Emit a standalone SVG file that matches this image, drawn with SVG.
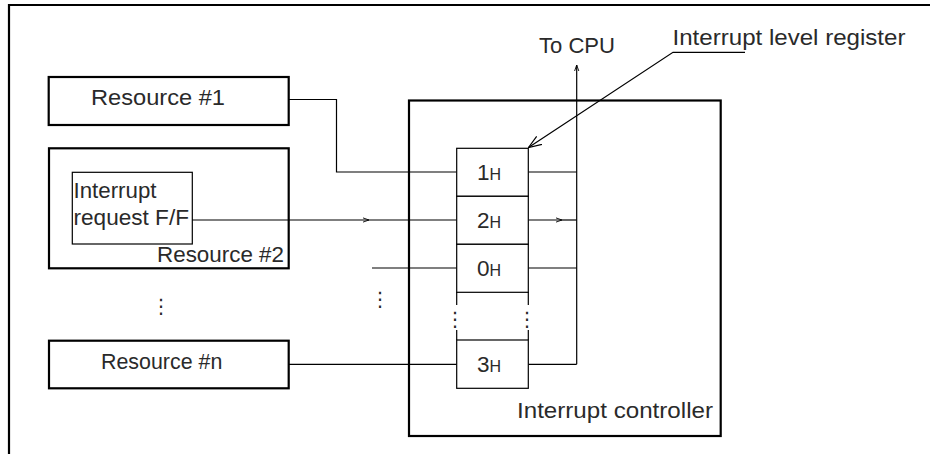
<svg xmlns="http://www.w3.org/2000/svg" width="930" height="454" viewBox="0 0 930 454">
<style>
  .thick { fill: none; stroke: #000; stroke-width: 2.2; }
  .thin { fill: none; stroke: #000; stroke-width: 1.2; }
  .cell { fill: #fff; stroke: #000; stroke-width: 1.2; }
  text { font-family: "Liberation Sans", Arial, sans-serif; font-size: 22.5px; fill: #2a2a2a; }
  .sub { font-size: 16px; }
  .dots { font-family: "DejaVu Sans", sans-serif; font-size: 20px; text-anchor: middle; }
  .reg { text-anchor: middle; }
</style>
<defs>
  <marker id="sm" viewBox="0 0 10 10" refX="10" refY="5" markerUnits="userSpaceOnUse" markerWidth="6" markerHeight="6" orient="auto">
    <path d="M0,1.5 L10,5 L0,8.5" fill="none" stroke="#000" stroke-width="1.5"/>
  </marker>
  <marker id="lg" viewBox="0 0 12 12" refX="12" refY="6" markerUnits="userSpaceOnUse" markerWidth="13" markerHeight="13" orient="auto">
    <path d="M0,1.5 L12,6 L0,10.5" fill="none" stroke="#000" stroke-width="1.1"/>
  </marker>
</defs>

<!-- outer frame -->
<path class="thick" d="M9,454 L9,5 L930,5"/>

<g id="connectors">
  <polyline class="thin" points="289,99.5 336.5,99.5 336.5,172 456.7,172"/>
  <line class="thin" x1="192" y1="220" x2="369" y2="220" marker-end="url(#sm)"/>
  <line class="thin" x1="369" y1="220" x2="456.7" y2="220"/>
  <line class="thin" x1="372" y1="268" x2="456.7" y2="268"/>
  <line class="thin" x1="289" y1="364.3" x2="456.7" y2="364.3"/>
  <line class="thin" x1="528.3" y1="172" x2="576.7" y2="172"/>
  <line class="thin" x1="528.3" y1="220" x2="562" y2="220" marker-end="url(#sm)"/>
  <line class="thin" x1="562" y1="220" x2="576.7" y2="220"/>
  <line class="thin" x1="528.3" y1="268" x2="576.7" y2="268"/>
  <line class="thin" x1="528.3" y1="364.3" x2="576.7" y2="364.3"/>
  <line class="thin" x1="576.7" y1="364.3" x2="576.7" y2="65" marker-end="url(#sm)"/>
  <polyline class="thin" points="745,52.3 673,52.3 528.5,147.5" marker-end="url(#lg)"/>
</g>

<g id="resource1">
  <rect class="thick" x="48.7" y="77" width="240" height="48"/>
  <text x="91" y="105" textLength="134" lengthAdjust="spacingAndGlyphs">Resource #1</text>
</g>

<g id="resource2">
  <rect class="thick" x="49" y="148.3" width="239.7" height="120"/>
  <rect class="thin" x="72.3" y="172.3" width="120" height="71.7"/>
  <text x="73.5" y="198" textLength="83" lengthAdjust="spacingAndGlyphs">Interrupt</text>
  <text x="73.5" y="225" textLength="115.5" lengthAdjust="spacingAndGlyphs">request F/F</text>
  <text x="157" y="261.5" textLength="127" lengthAdjust="spacingAndGlyphs">Resource #2</text>
</g>

<g id="resource-dots">
  <text class="dots" x="161" y="313">⋮</text>
</g>
<g id="middle-dots">
  <text class="dots" x="380" y="306">⋮</text>
</g>

<g id="resourcen">
  <rect class="thick" x="49" y="340.7" width="239.7" height="47.6"/>
  <text x="101" y="369.3" textLength="121.3" lengthAdjust="spacingAndGlyphs">Resource #n</text>
</g>

<g id="interrupt-controller">
  <rect class="thick" x="409" y="100.5" width="311.7" height="335.5"/>
  <text x="517" y="417.5" textLength="196" lengthAdjust="spacingAndGlyphs">Interrupt controller</text>
</g>

<g id="interrupt-level-register">
  <rect class="cell" x="456.7" y="148.3" width="71.6" height="48"/>
  <rect class="cell" x="456.7" y="196.3" width="71.6" height="48"/>
  <rect class="cell" x="456.7" y="244.3" width="71.6" height="48"/>
  <rect class="cell" x="456.7" y="340" width="71.6" height="48.3"/>
  <line class="thin" x1="456.7" y1="292" x2="456.7" y2="305"/>
  <line class="thin" x1="456.7" y1="330" x2="456.7" y2="340"/>
  <line class="thin" x1="528.3" y1="292" x2="528.3" y2="305"/>
  <line class="thin" x1="528.3" y1="330" x2="528.3" y2="340"/>
  <text class="dots" x="455" y="326">⋮</text>
  <text class="dots" x="527" y="326">⋮</text>
  <text class="reg" x="489" y="179.5">1<tspan class="sub">H</tspan></text>
  <text class="reg" x="489" y="227.5">2<tspan class="sub">H</tspan></text>
  <text class="reg" x="489" y="275.5">0<tspan class="sub">H</tspan></text>
  <text class="reg" x="489" y="371.5">3<tspan class="sub">H</tspan></text>
</g>

<g id="labels">
  <text x="539" y="52.5" textLength="76" lengthAdjust="spacingAndGlyphs">To CPU</text>
  <text x="672.5" y="45" textLength="233" lengthAdjust="spacingAndGlyphs">Interrupt level register</text>
</g>
</svg>
